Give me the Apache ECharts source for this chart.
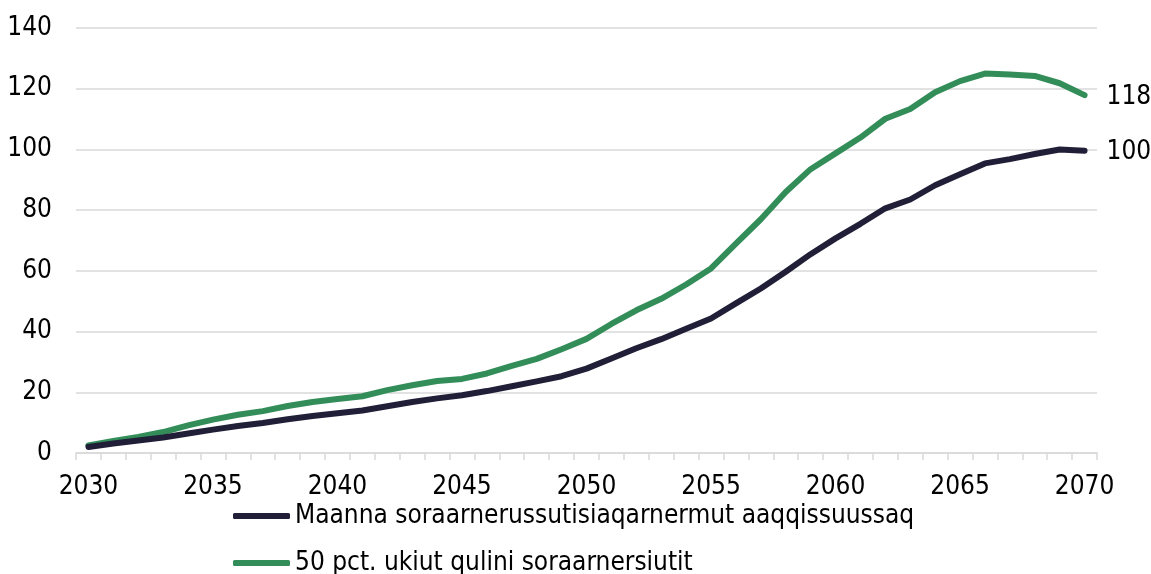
<!DOCTYPE html>
<html>
<head>
<meta charset="utf-8">
<script src="https://cdn.jsdelivr.net/npm/echarts@6/dist/echarts.min.js"></script>
<style>
html,body{margin:0;padding:0;background:#fff;}
#c{width:1151px;height:574px;}
</style>
</head>
<body>
<div id="c"></div>
<script>
const years = [];
for (let y = 2030; y <= 2070; y++) years.push(String(y));

const seriesNames = [
  "Maanna soraarnerussutisiaqarnermut aaqqissuussaq",
  "50 pct. ukiut qulini soraarnersiutit"
];

const current = [2.0,3.1,4.1,5.1,6.4,7.7,8.9,9.9,11.1,12.2,
  13.1,14.0,15.4,16.8,18.0,19.0,20.4,22.0,23.6,25.3,
  27.8,31.1,34.5,37.5,40.9,44.3,49.3,54.2,59.7,65.5,
  70.7,75.5,80.6,83.5,88.2,91.8,95.4,96.8,98.5,100.0,99.6];

const scenario50 = [2.5,4.0,5.3,6.9,9.1,11.0,12.6,13.8,15.5,16.8,
  17.8,18.7,20.7,22.3,23.7,24.4,26.2,28.7,31.0,34.2,
  37.6,42.5,47.0,50.8,55.5,60.8,69.0,77.0,86.0,93.5,
  98.7,103.9,110.1,113.3,118.8,122.5,125.0,124.7,124.2,121.8,117.9];

const FONT = '"DejaVu Sans Condensed","DejaVu Sans",sans-serif';
const DARK = '#211f38';
const GREEN = '#338d58';

function legendFor(name, top) {
  return {
    orient: 'horizontal',
    left: 233,
    top: top,
    padding: 0,
    itemWidth: 57,
    itemHeight: 6,
    icon: 'roundRect',
    textStyle: { fontFamily: FONT, fontSize: 26, color: '#000', lineHeight: 26 },
    data: [name]
  };
}

const chart = echarts.init(document.getElementById('c'));
chart.setOption({
  animation: false,
  backgroundColor: '#fff',
  textStyle: { fontFamily: FONT },
  grid: { left: 76, right: 54, top: 28, bottom: 121, containLabel: false },
  legend: [legendFor(seriesNames[0], 503), legendFor(seriesNames[1], 550)],
  xAxis: {
    type: 'category',
    data: years,
    boundaryGap: true,
    axisLine: { lineStyle: { color: '#d9d9d9', width: 1.5 } },
    axisTick: { show: true, interval: 0, length: 7, lineStyle: { color: '#d9d9d9', width: 1.5 } },
    axisLabel: {
      interval: function (idx) { return idx % 5 === 0; },
      margin: 21,
      fontSize: 26,
      color: '#000',
      fontFamily: FONT
    },
    splitLine: { show: false }
  },
  yAxis: {
    type: 'value',
    min: 0,
    max: 140,
    interval: 20,
    axisLine: { show: false },
    axisTick: { show: false },
    axisLabel: { margin: 24, fontSize: 26, color: '#000', fontFamily: FONT },
    splitLine: { lineStyle: { color: '#d9d9d9', width: 1.5 } }
  },
  series: [
    {
      name: seriesNames[0],
      type: 'line',
      data: current,
      showSymbol: false,
      symbol: 'none',
      lineStyle: { color: DARK, width: 6, cap: 'round', join: 'round' },
      itemStyle: { color: DARK },
      z: 3,
      endLabel: {
        show: true,
        distance: 22,
        fontSize: 26,
        color: '#000',
        fontFamily: FONT,
        offset: [0, 2],
        formatter: function (p) { return Math.round(p.value); }
      }
    },
    {
      name: seriesNames[1],
      type: 'line',
      data: scenario50,
      showSymbol: false,
      symbol: 'none',
      lineStyle: { color: GREEN, width: 6, cap: 'round', join: 'round' },
      itemStyle: { color: GREEN },
      z: 2,
      endLabel: {
        show: true,
        distance: 22,
        fontSize: 26,
        color: '#000',
        fontFamily: FONT,
        offset: [0, 2],
        formatter: function (p) { return Math.round(p.value); }
      }
    }
  ]
});
</script>
</body>
</html>
